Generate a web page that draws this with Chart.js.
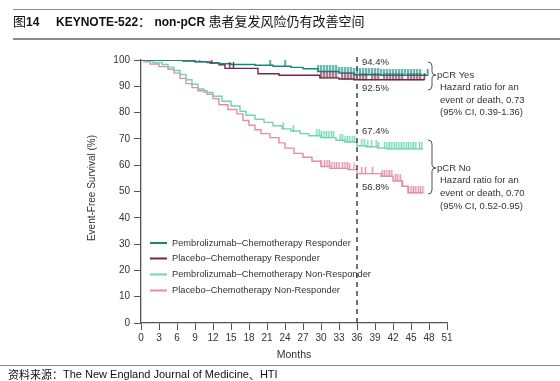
<!DOCTYPE html>
<html>
<head>
<meta charset="utf-8">
<script src="https://cdn.jsdelivr.net/npm/chart.js@4.4.1/dist/chart.umd.min.js"></script>
<style>
  html, body { margin:0; padding:0; background:#fff; }
  #wrap { position:relative; width:560px; height:381px; overflow:hidden; }
  #c { position:absolute; left:0; top:0; }
  .hline { position:absolute; left:13px; right:0; background:#8a8a8a; }
  #title { position:absolute; left:13px; top:11px; font-family:"Liberation Sans", Arial, sans-serif; font-weight:bold; font-size:12px; color:#111; white-space:nowrap; }
  #title .cjk { font-family:"Noto Sans CJK SC", sans-serif; font-weight:normal; font-size:13px; }
  #foot { position:absolute; left:8px; top:368px; height:13px; line-height:12px; font-family:"Liberation Sans", Arial, sans-serif; font-size:11px; color:#111; white-space:nowrap; }
  #foot span { line-height:12px; vertical-align:top; }
  #foot .cjk { font-family:"Noto Sans CJK SC", sans-serif; font-size:11px; }
</style>
</head>
<body>
<div id="wrap">
  <canvas id="c" width="560" height="381"></canvas>
  <div class="hline" style="top:9px;height:1px;"></div>
  <div id="title"><span class="cjk">图</span>14&nbsp;&nbsp;&nbsp;&nbsp;&nbsp;KEYNOTE-522<span class="cjk">：</span> non-pCR <span class="cjk">患者复发风险仍有改善空间</span></div>
  <div class="hline" style="top:38px;height:2px;"></div>
  <div class="hline" style="top:365px;height:1px;left:0;"></div>
  <div id="foot"><span class="cjk">资料来源：</span><span>The New England Journal of Medicine</span><span class="cjk">、</span><span>HTI</span></div>
</div>
<script>
// ---------- data ----------
const xTickLabels = [0,3,6,9,12,15,18,21,24,27,30,33,36,39,42,45,48,51];
const yTickLabels = [0,10,20,30,40,50,60,70,80,90,100];

const seriesNames = [
  'Pembrolizumab\u2013Chemotherapy Responder',
  'Placebo\u2013Chemotherapy Responder',
  'Pembrolizumab\u2013Chemotherapy Non-Responder',
  'Placebo\u2013Chemotherapy Non-Responder'
];

const pembroRespT = [0, 7, 9, 11, 13, 15, 19, 22, 25, 27, 29.5, 33, 35.5, 40, 47.8];
const pembroRespS = [100, 99.7, 99.4, 99, 98.6, 98.3, 98, 97.6, 97.2, 96.7, 95.6, 95, 94.4, 94.2, 94.2];
const pembroRespC = [2.5, 7, 9.8, 21.5, 24, 29.5, 30, 30.5, 31, 31.5, 32, 32.5, 33, 33.5, 34, 34.5, 35, 35.5, 36, 36.5, 37, 37.5, 38, 38.5, 39, 39.5, 40, 40.5, 41, 41.5, 42, 42.5, 43, 43.5, 44, 44.5, 45, 45.5, 46, 46.5, 47.8];

const placeboRespT = [0, 7, 9, 11.5, 13, 14, 19.5, 23, 29.8, 33, 35.5, 47.2];
const placeboRespS = [100, 99.7, 99.3, 98.8, 98.2, 96.8, 94.8, 94.2, 93.2, 92.8, 92.5, 92.5];
const placeboRespC = [11.8, 14.8, 15.4, 30, 30.5, 31, 31.5, 32, 32.5, 33.5, 34, 34.5, 35, 35.5, 36.5, 37, 37.5, 38.5, 39, 39.5, 40.5, 41, 41.5, 42, 42.5, 43, 43.5, 44.5, 45, 45.5, 46, 46.5, 47.2];

const pembroNonT = [0, 1, 2, 3.5, 4.5, 5.5, 6.5, 7.5, 8.5, 9.5, 10.5, 12, 13.5, 15, 16.5, 17.5, 19, 20.5, 22, 23.5, 25, 26.5, 28, 30, 32.5, 34, 36, 37.5, 39.5, 41, 47];
const pembroNonS = [100, 99.5, 99, 98.3, 97.3, 96, 94.5, 92.5, 90.8, 89, 87.7, 86.2, 84.3, 82.5, 80.5, 79, 77.5, 76.3, 75, 73.8, 73, 72, 71.2, 70.5, 69.5, 68.8, 67.4, 67, 66.5, 66.2, 66.2];
const pembroNonC = [23.7, 25.4, 29.3, 29.7, 30.1, 30.5, 30.9, 31.3, 31.7, 32.1, 33.2, 33.6, 34, 34.4, 34.8, 35.2, 35.6, 36.8, 37.2, 37.8, 38.4, 39.2, 39.6, 40.6, 41, 41.4, 41.8, 42.2, 42.6, 43, 43.4, 43.8, 44.2, 44.6, 45, 45.4, 45.8, 46.4, 46.8];

const placeboNonT = [0, 0.5, 1.5, 3, 4.5, 5.5, 6.5, 7.5, 8.5, 9.5, 11, 12, 13, 14.5, 16, 17, 18, 19, 20, 21.5, 23, 24, 25.5, 27, 28.5, 30, 31.5, 34.5, 36, 40, 42, 43.5, 44.5, 47];
const placeboNonS = [100, 99.3, 98.5, 97.5, 96.5, 95, 93, 91, 89.5, 88.3, 87, 85.3, 83, 81.2, 79.5, 77, 75.2, 73.5, 72, 70.5, 68.5, 66.5, 64.5, 63, 61.5, 59.5, 58.8, 58.3, 56.8, 55.8, 54, 52, 49.5, 49.5];
const placeboNonC = [30, 30.6, 31, 31.4, 31.8, 32.2, 32.6, 33, 33.6, 34, 34.4, 34.8, 35.5, 36.8, 37.4, 38.6, 40.2, 40.6, 41, 41.4, 41.8, 42.4, 42.8, 43.2, 43.6, 44.6, 45, 45.4, 45.8, 46.2, 46.6, 47];

const landmarkMonth = 36;
const landmarkLabels = ['94.4%', '92.5%', '67.4%', '56.8%'];

const colors = ['#13887a', '#74264a', '#72d4b2', '#e48cac'];

// ---------- build datasets ----------
function toPts(T, S) { return T.map((t, i) => ({x: t, y: S[i]})); }
function valueAt(T, S, t) { let v = S[0]; for (let i = 0; i < T.length; i++) { if (T[i] <= t) v = S[i]; } return v; }
function censorPts(T, S, C) { return C.map(t => ({x: t, y: valueAt(T, S, t)})); }
function tickGlyph(color) {
  const cv = document.createElement('canvas');
  cv.width = 3; cv.height = 13;
  const g = cv.getContext('2d');
  g.strokeStyle = color; g.lineWidth = 1.4;
  g.beginPath(); g.moveTo(1.5, 0); g.lineTo(1.5, 7); g.stroke();
  return cv;
}

const curves = [
  [pembroRespT, pembroRespS, pembroRespC],
  [placeboRespT, placeboRespS, placeboRespC],
  [pembroNonT, pembroNonS, pembroNonC],
  [placeboNonT, placeboNonS, placeboNonC]
];

const datasets = [];
curves.forEach((c, i) => {
  datasets.push({
    type: 'line', label: seriesNames[i], data: toPts(c[0], c[1]),
    borderColor: colors[i], backgroundColor: colors[i], borderWidth: 1.4,
    stepped: 'before', pointRadius: 0, fill: false, order: 2
  });
});
curves.forEach((c, i) => {
  datasets.push({
    type: 'scatter', label: seriesNames[i] + ' censored', data: censorPts(c[0], c[1], c[2]),
    borderColor: colors[i], backgroundColor: colors[i], pointStyle: tickGlyph(colors[i]),
    pointRadius: 4, showLine: false, order: 1
  });
});

// ---------- annotations plugin ----------
const annot = {
  id: 'annot',
  afterDraw(chart) {
    const {ctx, chartArea, scales} = chart;
    const xs = scales.x;
    ctx.save();
    const lx = xs.getPixelForValue(landmarkMonth);
    ctx.strokeStyle = '#444'; ctx.lineWidth = 1.5; ctx.setLineDash([5, 4]);
    ctx.beginPath(); ctx.moveTo(lx, chartArea.top - 3); ctx.lineTo(lx, chartArea.bottom); ctx.stroke();
    ctx.setLineDash([]);
    ctx.fillStyle = '#333'; ctx.font = '9.5px "Liberation Sans", Arial, sans-serif';
    ctx.textBaseline = 'middle'; ctx.textAlign = 'left';
    const lys = [62, 88, 131, 187];
    landmarkLabels.forEach((t, i) => ctx.fillText(t, lx + 5, lys[i]));
    function brace(x0, y1, y2, ym) {
      ctx.strokeStyle = '#555'; ctx.lineWidth = 1;
      ctx.beginPath();
      ctx.moveTo(x0, y1);
      ctx.quadraticCurveTo(x0 + 4, y1, x0 + 4, y1 + 4);
      ctx.lineTo(x0 + 4, ym - 3);
      ctx.quadraticCurveTo(x0 + 4, ym, x0 + 8, ym);
      ctx.quadraticCurveTo(x0 + 4, ym, x0 + 4, ym + 3);
      ctx.lineTo(x0 + 4, y2 - 4);
      ctx.quadraticCurveTo(x0 + 4, y2, x0, y2);
      ctx.stroke();
    }
    brace(428, 62, 90, 75);
    brace(428, 140, 194, 168);
    ctx.fillStyle = '#333'; ctx.font = '9.5px "Liberation Sans", Arial, sans-serif';
    const yesLines = ['pCR Yes', 'Hazard ratio for an', 'event or death, 0.73', '(95% CI, 0.39-1.36)'];
    const noLines = ['pCR No', 'Hazard ratio for an', 'event or death, 0.70', '(95% CI, 0.52-0.95)'];
    yesLines.forEach((t, i) => ctx.fillText(t, i === 0 ? 437 : 440, 75 + i * 12.5));
    noLines.forEach((t, i) => ctx.fillText(t, i === 0 ? 437 : 440, 168 + i * 12.7));
    ctx.font = '10px "Liberation Sans", Arial, sans-serif';
    ctx.textAlign = 'center';
    ctx.save(); ctx.translate(92, 188); ctx.rotate(-Math.PI / 2); ctx.fillText('Event-Free Survival (%)', 0, 0); ctx.restore();
    ctx.font = '10.5px "Liberation Sans", Arial, sans-serif';
    ctx.fillText('Months', (xs.left + xs.right) / 2, 355);
    ctx.textAlign = 'left'; ctx.font = '9.3px "Liberation Sans", Arial, sans-serif';
    const legY = [243, 258.5, 274.5, 290.5];
    seriesNames.forEach((n, i) => {
      ctx.strokeStyle = colors[i]; ctx.lineWidth = 2;
      ctx.beginPath(); ctx.moveTo(150, legY[i]); ctx.lineTo(167, legY[i]); ctx.stroke();
      ctx.fillStyle = '#333'; ctx.fillText(n, 172, legY[i]);
    });
    ctx.restore();
  }
};

new Chart(document.getElementById('c'), {
  data: { datasets },
  options: {
    responsive: false, animation: false, devicePixelRatio: 1,
    layout: { padding: { left: 0, right: 113, top: 60, bottom: 0 } },
    plugins: { legend: { display: false }, tooltip: { enabled: false } },
    scales: {
      x: {
        type: 'linear', min: 0, max: 51,
        afterBuildTicks: s => { s.ticks = xTickLabels.map(v => ({value: v})); },
        afterFit: s => { s.height = 58; },
        ticks: { color: '#333', font: { family: '"Liberation Sans", Arial, sans-serif', size: 10 }, padding: 2, maxRotation: 0, autoSkip: false },
        grid: { drawOnChartArea: false, drawTicks: true, tickLength: 7, color: '#555', lineWidth: 1 },
        border: { color: '#555', width: 1.3 }
      },
      y: {
        type: 'linear', min: 0, max: 100,
        afterBuildTicks: s => { s.ticks = yTickLabels.map(v => ({value: v})); },
        afterFit: s => { s.width = 141; },
        ticks: { color: '#333', font: { family: '"Liberation Sans", Arial, sans-serif', size: 10 }, padding: 4, autoSkip: false },
        grid: { drawOnChartArea: false, drawTicks: true, tickLength: 7, color: '#555', lineWidth: 1 },
        border: { color: '#555', width: 1.3 }
      }
    }
  },
  plugins: [annot]
});
</script>
</body>
</html>
